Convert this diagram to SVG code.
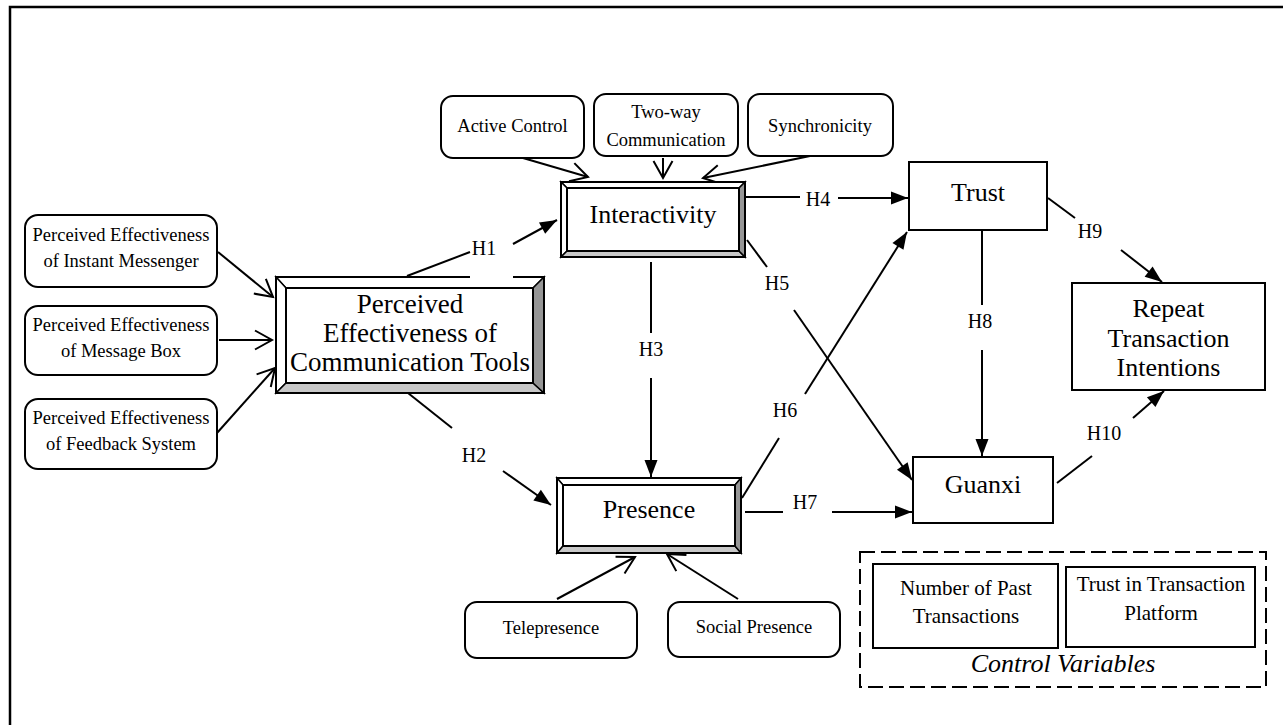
<svg xmlns="http://www.w3.org/2000/svg" width="1283" height="725" viewBox="0 0 1283 725">
<defs>
<marker id="fa" markerUnits="userSpaceOnUse" markerWidth="18" markerHeight="14" refX="17" refY="6.5" orient="auto" overflow="visible">
<path d="M0,0 L17,6.5 L0,13 z" fill="#000"/>
</marker>
<marker id="oa" markerUnits="userSpaceOnUse" markerWidth="20" markerHeight="22" refX="17" refY="10" orient="auto" overflow="visible">
<path d="M0,0.5 L17,10 L0,19.5" fill="none" stroke="#000" stroke-width="2"/>
</marker>
<style>
text{font-family:"Liberation Serif","Times New Roman",serif;fill:#000;text-anchor:middle}
.s{font-size:18.5px}
.m{font-size:21px}
.b{font-size:26px}
.h{font-size:20px}
.rb{fill:#fff;stroke:#000;stroke-width:2}
.bx{fill:#fff;stroke:#000;stroke-width:2}
.bt{fill:#fff;stroke:#000;stroke-width:1.5}
.bb{fill:#c8c8c8;stroke:#000;stroke-width:1.5}
.br{fill:#969696;stroke:#000;stroke-width:1.5}
.ln{stroke:#000;stroke-width:2;fill:none}
.fa{marker-end:url(#fa)}
.oa{marker-end:url(#oa)}
</style>
</defs>
<rect width="1283" height="725" fill="#fff"/>
<path d="M10,725 L10,7 L1283,7" fill="none" stroke="#000" stroke-width="2.5"/>

<g id="connectors">
<line class="ln oa" x1="218" y1="252" x2="273" y2="297"/>
<line class="ln oa" x1="219" y1="340" x2="272" y2="340"/>
<line class="ln oa" x1="217" y1="433" x2="275" y2="368"/>
<line class="ln oa" x1="523" y1="158" x2="588" y2="177"/>
<line class="ln oa" x1="663" y1="158" x2="663" y2="178"/>
<line class="ln oa" x1="810" y1="156" x2="703" y2="178"/>
<line class="ln oa" x1="557" y1="599" x2="635" y2="557"/>
<line class="ln oa" x1="738" y1="599" x2="667" y2="554"/>
<line class="ln" x1="407" y1="276" x2="470" y2="252"/>
<line class="ln fa" x1="513" y1="244" x2="557" y2="220"/>
<line class="ln" x1="408" y1="393" x2="452" y2="428"/>
<line class="ln fa" x1="503" y1="471" x2="551" y2="505"/>
<line class="ln" x1="651" y1="262" x2="651" y2="333"/>
<line class="ln fa" x1="651" y1="378" x2="651" y2="477"/>
<line class="ln" x1="745" y1="197" x2="800" y2="197"/>
<line class="ln fa" x1="838" y1="198" x2="908" y2="198"/>
<line class="ln" x1="747" y1="240" x2="767" y2="267"/>
<line class="ln fa" x1="794" y1="310" x2="912" y2="480"/>
<line class="ln" x1="742" y1="498" x2="779" y2="438"/>
<line class="ln fa" x1="805" y1="394" x2="907" y2="232"/>
<line class="ln" x1="745" y1="512" x2="783" y2="512"/>
<line class="ln fa" x1="832" y1="512" x2="912" y2="512"/>
<line class="ln" x1="982" y1="229" x2="982" y2="305"/>
<line class="ln fa" x1="982" y1="350" x2="982" y2="456"/>
<line class="ln" x1="1048" y1="198" x2="1075" y2="218"/>
<line class="ln fa" x1="1121" y1="250" x2="1162" y2="282"/>
<line class="ln" x1="1057" y1="483" x2="1092" y2="456"/>
<line class="ln fa" x1="1133" y1="418" x2="1164" y2="391"/>
</g>

<g id="labels">
<text class="h" x="484" y="255">H1</text>
<text class="h" x="474" y="462">H2</text>
<text class="h" x="651" y="356">H3</text>
<text class="h" x="818" y="206">H4</text>
<text class="h" x="777" y="290">H5</text>
<text class="h" x="785" y="417">H6</text>
<text class="h" x="805" y="509">H7</text>
<text class="h" x="980" y="328">H8</text>
<text class="h" x="1090" y="238">H9</text>
<text class="h" x="1104" y="440">H10</text>
</g>

<g id="pe-im">
<rect class="rb" x="25" y="215" width="192" height="72" rx="13"/>
<text class="s" x="121" y="241">Perceived Effectiveness</text>
<text class="s" x="121" y="267">of Instant Messenger</text>
</g>
<g id="pe-mb">
<rect class="rb" x="25" y="306" width="192" height="69" rx="13"/>
<text class="s" x="121" y="331">Perceived Effectiveness</text>
<text class="s" x="121" y="357">of Message Box</text>
</g>
<g id="pe-fs">
<rect class="rb" x="25" y="399" width="192" height="70" rx="13"/>
<text class="s" x="121" y="424">Perceived Effectiveness</text>
<text class="s" x="121" y="450">of Feedback System</text>
</g>

<g id="pect">
<polygon class="bt" points="276,277 544,277 533,288 286,288"/>
<polygon class="bt" points="276,277 286,288 286,383 276,393"/>
<polygon class="bb" points="276,393 286,383 533,383 544,393"/>
<polygon class="br" points="544,277 544,393 533,383 533,288"/>
<rect x="276" y="277" width="268" height="116" fill="none" stroke="#000" stroke-width="2"/>
<rect x="286" y="288" width="247" height="95" fill="#fff" stroke="#000" stroke-width="2"/>
<rect x="470" y="273" width="43" height="7" fill="#fff"/>
<text style="font-size:27px" x="410" y="313">Perceived</text>
<text style="font-size:27px" x="410" y="342">Effectiveness of</text>
<text style="font-size:27px" x="410" y="371">Communication Tools</text>
</g>

<g id="active-control">
<rect class="rb" x="441" y="96" width="143" height="62" rx="12"/>
<text class="s" x="512.5" y="132">Active Control</text>
</g>
<g id="two-way">
<rect class="rb" x="594" y="94" width="144" height="62" rx="12"/>
<text class="s" x="666" y="118">Two-way</text>
<text class="s" x="666" y="146">Communication</text>
</g>
<g id="synchronicity">
<rect class="rb" x="748" y="94" width="145" height="62" rx="12"/>
<text class="s" x="820" y="132">Synchronicity</text>
</g>

<g id="interactivity">
<polygon class="bt" points="561,182 745,182 739,188 567,188"/>
<polygon class="bt" points="561,182 567,188 567,251 561,257"/>
<polygon class="bb" points="561,257 567,251 739,251 745,257"/>
<polygon class="br" points="745,182 745,257 739,251 739,188"/>
<rect x="561" y="182" width="184" height="75" fill="none" stroke="#000" stroke-width="2"/>
<rect x="567" y="188" width="172" height="63" fill="#fff" stroke="#000" stroke-width="2"/>
<text class="b" x="653" y="223">Interactivity</text>
</g>

<g id="presence">
<polygon class="bt" points="557,478 741,478 735,485 563,485"/>
<polygon class="bt" points="557,478 563,485 563,546 557,553"/>
<polygon class="bb" points="557,553 563,546 735,546 741,553"/>
<polygon class="br" points="741,478 741,553 735,546 735,485"/>
<rect x="557" y="478" width="184" height="75" fill="none" stroke="#000" stroke-width="2"/>
<rect x="563" y="485" width="172" height="61" fill="#fff" stroke="#000" stroke-width="2"/>
<text class="b" x="649" y="518">Presence</text>
</g>

<g id="telepresence">
<rect class="rb" x="465" y="602" width="172" height="56" rx="12"/>
<text class="s" x="551" y="634">Telepresence</text>
</g>
<g id="social-presence">
<rect class="rb" x="668" y="602" width="172" height="55" rx="12"/>
<text class="s" x="754" y="633">Social Presence</text>
</g>

<g id="trust">
<rect class="bx" x="909" y="162" width="138" height="68"/>
<text class="b" x="978" y="201">Trust</text>
</g>
<g id="repeat">
<rect class="bx" x="1072" y="283" width="193" height="107"/>
<text class="b" x="1168.5" y="317">Repeat</text>
<text class="b" x="1168.5" y="347">Transaction</text>
<text class="b" x="1168.5" y="376">Intentions</text>
</g>
<g id="guanxi">
<rect class="bx" x="913" y="457" width="140" height="66"/>
<text class="b" x="983" y="493">Guanxi</text>
</g>

<g id="control-variables">
<rect x="860" y="552" width="406" height="135" fill="none" stroke="#000" stroke-width="2" stroke-dasharray="15,6"/>
<rect class="bx" x="873" y="564" width="185" height="84"/>
<text class="m" x="966" y="595">Number of Past</text>
<text class="m" x="966" y="623">Transactions</text>
<rect class="bx" x="1066" y="567" width="189" height="80"/>
<text class="m" x="1161" y="591">Trust in Transaction</text>
<text class="m" x="1161" y="620">Platform</text>
<text class="b" style="font-style:italic" x="1063" y="672">Control Variables</text>
</g>
</svg>
